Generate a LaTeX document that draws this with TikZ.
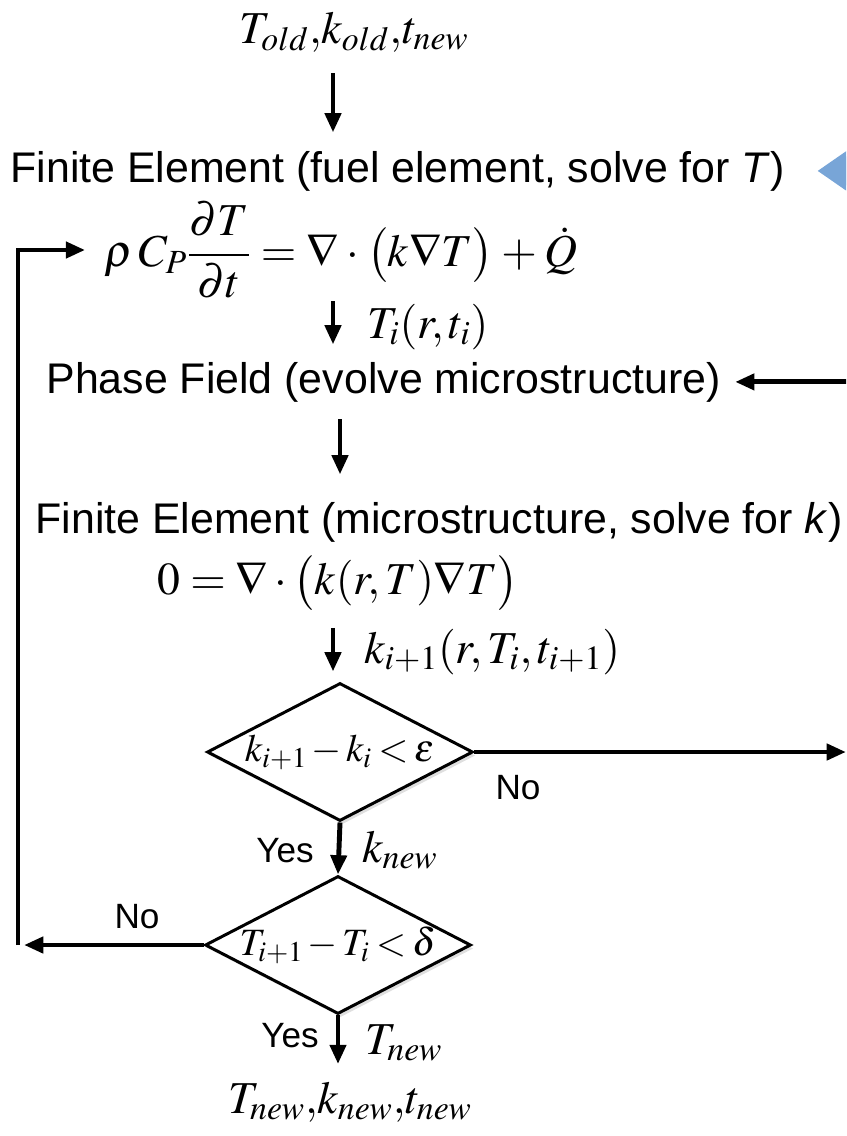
\documentclass[tikz,border=0pt]{standalone}
\usepackage{mathptmx}
\usepackage[no-math]{fontspec}
\setmainfont{Liberation Sans}
\usetikzlibrary{arrows.meta,shapes.geometric,shadows}
\definecolor{arrowblue}{RGB}{120,165,215}

\begin{document}
\begin{tikzpicture}[x=0.02cm,y=-0.02cm,->,>={Triangle[length=11pt,width=9pt]},line width=2.8pt,
  text node/.style={inner sep=0pt,font=\fontsize{24.4}{29}\selectfont},
  math node/.style={inner sep=0pt,font=\fontsize{26}{31}\selectfont},
  label node/.style={inner sep=0pt,font=\fontsize{20}{24}\selectfont},
  test node/.style={diamond,draw,line width=1.7pt,aspect=1.93,inner sep=0pt,minimum width=5.32cm,minimum height=2.76cm,fill=white,font=\fontsize{22}{27}\selectfont,drop shadow={shadow xshift=1.5pt,shadow yshift=-2pt,opacity=0.25}},
  blue arrow/.style={draw=arrowblue,line width=9pt,-{Triangle[length=20pt,width=26pt]}}]
\useasboundingbox (0,0) rectangle (846,1136);
\clip (0,0) rectangle (846,1136);
\coordinate (c) at (333,0);
\coordinate (r) at (846,0);
\coordinate (11) at (900,0);
\node[math node,anchor=base] (1) at (354,43) {$T_{old},\!k_{old},\!t_{new}$};
\node[text node,anchor=base west] (2) at (8,182) {Finite Element (fuel element, solve for \textit{T})};
\node[math node] (3) at (341,250) {$\thickmuskip=4mu\medmuskip=3mu\displaystyle\rho\,C_P\frac{\partial T}{\partial t}=\nabla\cdot\bigl(k\nabla T\bigr)+\dot{Q}$};
\node[math node,anchor=base west] (ti) at (365,338) {$T_i(r,t_i)$};
\node[text node,anchor=base west] (4) at (44,393) {Phase Field (evolve microstructure)};
\node[text node,anchor=base west] (5) at (33,533) {Finite Element (microstructure, solve for \textit{k})};
\node[math node] (6) at (338,583) {$0=\nabla\cdot\bigl(k(r,T)\nabla T\bigr)$};
\node[math node,anchor=base west] (ki) at (362,663) {$k_{i+1}(r,T_i,t_{i+1})$};
\node[test node] (7) at (340,752) {\makebox[0pt]{$\medmuskip=2mu\thickmuskip=3mu k_{i+1}-k_i<\varepsilon$}};
\node[test node] (8) at (338,945) {\makebox[0pt]{$\medmuskip=2mu\thickmuskip=3mu T_{i+1}-T_i<\delta$}};
\node[math node,anchor=base] (9) at (350,1113) {$T_{new},\!k_{new},\!t_{new}$};
\coordinate (10) at (18,945);
% labels
\node[label node] (no1) at (518,788) {No};
\node[label node] (yes1) at (285,851) {Yes};
\node[math node,anchor=west] (kn) at (360,850) {$k_{new}$};
\node[label node] (no2) at (137,917) {No};
\node[label node] (yes2) at (290,1036) {Yes};
\node[math node,anchor=west] (tn) at (363,1043) {$T_{new}$};
% connectors
\path (1.south -| c) edge[shorten <=0.38cm,shorten >=0.32cm] (2.north -| c);
\path (2.east -| 11) edge[blue arrow,shorten >=0.6cm] (2.east);
\path (3.south -| c) edge[shorten >=0.3cm] (4.north -| c);
\path (4.east -| 11) edge[shorten >=0.24cm] (4.east);
\path (4.south -| 7.north) edge[shorten <=0.3cm,shorten >=0.5cm] (5.north -| 7.north);
\path (6.south -| c) edge[shorten <=0.3cm,shorten >=0.2cm] (7.north -| c);
\path (7.east) edge (7.east -| r);
\path (7.south) edge (8.north);
\path (8.west) edge[shorten >=0.12cm] (10);
\draw (10) |- (3.west) [shorten >=0.34cm];
\path (8.south) edge[shorten >=0.3cm] (8.south |- 9.north);
\end{tikzpicture}
\end{document}
